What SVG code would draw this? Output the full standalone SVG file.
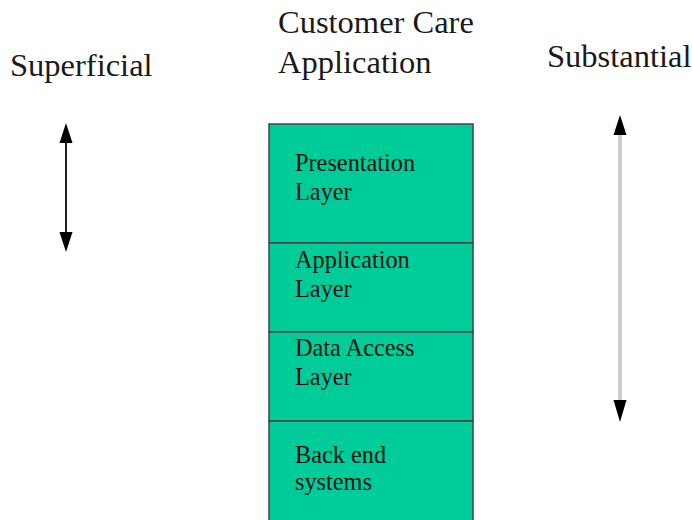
<svg xmlns="http://www.w3.org/2000/svg" width="692" height="520" viewBox="0 0 692 520">
  <style>
    .title { font-family: "Liberation Serif", "Times New Roman", serif; font-size: 32.5px; fill: #1a1a1a; }
    .label { font-family: "Liberation Serif", "Times New Roman", serif; font-size: 24.3px; fill: #111; }
    .layer { fill: #00cc99; stroke: #444; stroke-width: 1.5; }
    .head { fill: #000; }
  </style>

  <rect width="692" height="520" fill="#fff"/>

  <!-- headings -->
  <g id="superficial">
    <text class="title" x="10" y="76">Superficial</text>
  </g>
  <g id="customer-care">
    <text class="title" x="278" y="33">Customer Care</text>
    <text class="title" x="278" y="73">Application</text>
  </g>
  <g id="substantial">
    <text class="title" x="547" y="67">Substantial</text>
  </g>

  <!-- stack of layers -->
  <g id="presentation-layer">
    <rect class="layer" x="269" y="124" width="204" height="119"/>
    <text class="label" x="295" y="171">Presentation</text>
    <text class="label" x="295" y="200">Layer</text>
  </g>
  <g id="application-layer">
    <rect class="layer" x="269" y="243" width="204" height="89"/>
    <text class="label" x="295" y="268">Application</text>
    <text class="label" x="295" y="297">Layer</text>
  </g>
  <g id="data-access-layer">
    <rect class="layer" x="269" y="332" width="204" height="89"/>
    <text class="label" x="295" y="356">Data Access</text>
    <text class="label" x="295" y="385">Layer</text>
  </g>
  <g id="back-end-systems">
    <rect class="layer" x="269" y="421" width="204" height="110"/>
    <text class="label" x="295" y="463">Back end</text>
    <text class="label" x="295" y="490">systems</text>
  </g>

  <!-- double-headed arrows -->
  <g id="connectors">
    <line x1="66" y1="140" x2="66" y2="236" stroke="#222" stroke-width="2"/>
    <polygon class="head" points="66,123 59.5,143 72.5,143"/>
    <polygon class="head" points="66,252 59.5,232 72.5,232"/>

    <line x1="620" y1="132" x2="620" y2="404" stroke="#cccccc" stroke-width="4"/>
    <polygon class="head" points="620,115 613.5,135 626.5,135"/>
    <polygon class="head" points="620,422 613.5,400 626.5,400"/>
  </g>
</svg>
